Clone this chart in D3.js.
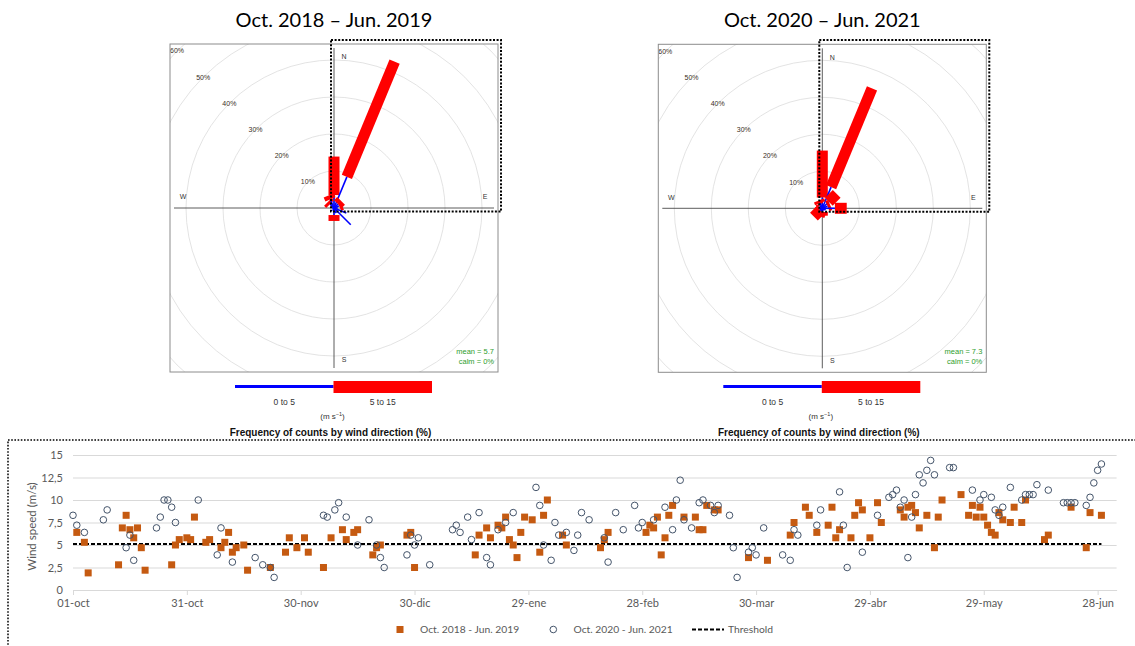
<!DOCTYPE html>
<html>
<head>
<meta charset="utf-8">
<script src="https://cdn.jsdelivr.net/npm/d3@7"></script>
<style>
body { margin: 0; background: #fff; }
.rose text { font-family: "Liberation Sans", Arial, sans-serif; }
.xl text { font-family: Lato, "Open Sans", sans-serif; fill: #595959; }
</style>
</head>
<body>
<svg id="chart" width="1135" height="646"></svg>
<script>
// wind rose data (% of counts per direction and speed bin)
var dirs = ['N','NNE','NE','ENE','E','ESE','SE','SSE','S','SSW','SW','WSW','W','WNW','NW','NNW'];
var speedBins = ['0 to 5', '5 to 15'];
var ringPct = [10, 20, 30, 40, 50, 60];
var compass = ['N', 'E', 'S', 'W'];

var low2019  = [3.5, 9.1, 1.5, 1.5, 1.0, 3.6, 6.4, 1.5, 1.9, 0.8, 0.5, 0.3, 0.3, 0.5, 1.5, 2.5];
var high2019 = [10.4, 33.7, 1.2, 0.8, 0, 0, 0, 0, 1.6, 0, 0, 0, 0, 0, 0.8, 1.2];
var low2021  = [2.9, 6.2, 2.5, 1.5, 3.4, 1.0, 0.8, 0.5, 1.0, 1.0, 0.8, 0.8, 0.5, 0.5, 1.0, 1.5];
var high2021 = [12.7, 28.9, 3.0, 0.8, 3.2, 0, 0, 0, 1.0, 1.2, 2.4, 0.5, 0, 0, 0.5, 0.8];

// daily wind speed series: [day since 01-oct, m/s]
var tickDays = [0, 30, 60, 90, 120, 150, 180, 210, 240, 270];
var tickLabels = ['01-oct','31-oct','30-nov','30-dic','29-ene','28-feb','30-mar','29-abr','29-may','28-jun'];
var yTicks = [0, 2.5, 5, 7.5, 10, 12.5, 15];
var threshold = 5.1;

var series2019 = [[1,6.4],[3,5.3],[4,1.9],[12,2.8],[13,6.9],[14,8.3],[15,6.7],[16,5.8],[17,6.9],[18,4.7],[19,2.2],
  [26,2.8],[27,5.0],[28,5.6],[30,5.8],[31,5.6],[32,8.1],[35,5.3],[36,5.6],[39,4.7],[40,5.3],[41,6.4],[42,4.2],
  [43,4.7],[45,5.0],[46,2.2],[52,2.5],[56,4.2],[57,5.8],[59,4.7],[61,5.8],[62,4.2],[66,2.5],[68,5.8],
  [71,6.7],[72,5.6],[74,6.4],[75,6.7],[79,3.9],[80,4.7],[81,5.0],[88,6.1],[89,6.4],[90,2.5],[106,3.9],[107,6.1],
  [109,6.9],[110,5.8],[112,7.2],[113,6.9],[114,8.1],[115,5.6],[116,5.0],[117,3.6],[118,6.4],[119,8.1],[121,7.8],
  [123,4.2],[124,8.3],[125,10.0],[129,6.1],[130,5.0],
  [139,4.7],[140,5.6],[141,6.4],[151,6.4],[152,7.2],[153,6.9],[154,8.1],[155,3.9],[156,5.8],[157,8.3],[158,9.4],
  [161,8.1],[164,8.1],[165,6.7],[166,6.7],[167,9.4],[169,8.9],[170,8.9],[178,3.6],[183,3.3],[189,6.1],[190,7.5],
  [193,9.2],[194,8.3],[196,6.4],[199,7.2],[200,9.2],[201,5.8],[202,6.7],[205,5.8],[206,8.3],[207,9.7],
  [208,8.9],[210,5.8],[212,9.7],[213,7.5],[218,8.9],[219,8.1],[220,9.2],[221,9.4],[222,8.6],[223,6.9],[225,8.3],
  [227,4.7],[228,8.1],[229,10.0],[234,10.6],[236,8.3],[237,9.4],[238,8.1],[239,9.2],[240,8.1],[241,7.2],[242,6.4],
  [243,6.1],[244,8.6],[245,7.8],[247,7.5],[248,9.2],[250,7.5],[251,10.0],[256,5.6],[257,6.1],[263,9.2],[267,4.7],
  [268,8.6],[271,8.3]];

var series2021 = [[0,8.3],[1,7.2],[3,6.4],[8,7.8],[9,8.9],[14,4.7],[15,6.1],[16,3.3],[22,6.9],[23,8.1],[24,10.0],
  [25,10.0],[26,9.2],[27,7.5],[33,10.0],[38,3.9],[39,6.9],[42,3.1],[48,3.6],[50,2.8],[52,2.5],[53,1.4],[66,8.3],[67,8.1],
  [69,8.9],[70,9.7],[72,8.1],[75,5.0],[78,7.8],[80,5.0],[81,3.6],[82,2.5],[88,3.9],[89,6.1],[90,5.0],[91,5.8],[94,2.8],
  [100,6.7],[101,7.2],[102,6.4],[104,8.1],[105,5.6],[107,8.6],[109,3.6],[110,2.8],[112,6.7],[114,7.5],[116,8.6],
  [122,11.4],[123,9.4],[124,5.0],[126,3.3],[127,7.5],[128,6.1],[130,6.4],[132,4.4],[133,6.1],[134,8.6],[136,7.8],
  [140,5.8],[141,3.1],[143,8.6],[145,6.7],[148,9.4],[149,6.9],[150,7.5],[153,7.8],[156,9.2],[158,6.7],[159,10.0],
  [160,12.2],[161,7.8],[163,6.9],[165,9.7],[166,10.0],[168,9.4],[169,8.6],[170,9.4],[173,8.3],[174,4.7],[175,1.4],
  [178,4.2],[179,4.7],[180,3.9],[182,6.9],[187,3.9],[189,3.3],[190,6.7],[191,6.1],[196,7.2],[197,8.9],[202,10.9],
  [203,7.2],[204,2.5],[208,4.2],
  [212,8.3],[215,10.3],[216,10.6],[217,11.1],[218,9.2],[219,10.0],[220,3.6],[221,8.1],[222,10.6],[223,12.8],[224,11.9],
  [225,13.3],[226,14.4],[227,12.8],[231,13.6],[232,13.6],[237,11.1],[239,10.0],[240,10.6],[242,10.3],[243,8.9],
  [244,8.3],[245,9.2],[247,11.4],[250,10.0],[251,10.6],[252,10.6],[253,10.6],[254,11.7],[257,11.1],[261,9.7],
  [262,9.7],[263,9.7],[264,9.7],[267,9.4],[268,10.3],[269,11.9],[270,13.3],[271,14.0]];

var svg = d3.select('#chart');

windrose(svg, {id: 'a', cx: 334, cy: 208, title: 'Oct. 2018 \u2013 Jun. 2019', low: low2019, high: high2019, mean: '5.7'});
windrose(svg, {id: 'b', cx: 822.3, cy: 208.3, title: 'Oct. 2020 \u2013 Jun. 2021', low: low2021, high: high2021, mean: '7.3'});
scatter(svg);

function windrose(svg, cfg){
    var half = 164;
    var r = d3.scaleLinear().domain([0, 10]).range([0, 37]);
    var angle = d3.scalePoint().domain(dirs).range([0, 337.5]);
    var root = svg.append('g').attr('class', 'rose');

    root.append('text')
        .attr('x', cfg.cx).attr('y', 26.5)
        .attr('text-anchor', 'middle')
        .style('font-family', 'Lato, sans-serif')
        .style('font-size', '20px')
        .text(cfg.title);

    var g = root.append('g').attr('transform', 'translate(' + cfg.cx + ',' + cfg.cy + ')');
    g.append('clipPath').attr('id', 'clip' + cfg.id)
      .append('rect').attr('x', -half).attr('y', -half).attr('width', 2 * half).attr('height', 2 * half);

    var inner = g.append('g').attr('clip-path', 'url(#clip' + cfg.id + ')');
    inner.selectAll('.ring').data(ringPct).enter().append('circle')
        .attr('class', 'ring')
        .attr('r', function(d){ return r(d); })
        .attr('fill', 'none').attr('stroke', '#dcdcdc').attr('stroke-width', 0.8);
    inner.selectAll('.pct').data(ringPct).enter().append('text')
        .attr('class', 'pct')
        .attr('x', function(d){ return -r(d) * Math.SQRT1_2; })
        .attr('y', function(d){ return -r(d) * Math.SQRT1_2; })
        .attr('text-anchor', 'middle').attr('dy', '0.35em')
        .style('font-size', '7px').style('fill', '#3b2f25')
        .text(function(d){ return d + '%'; });

    // axes through the centre
    g.append('line').attr('x1', -160).attr('x2', 160).attr('stroke', '#333').attr('stroke-width', 0.8);
    g.append('line').attr('y1', -160).attr('y2', 160).attr('stroke', '#333').attr('stroke-width', 0.8);

    var lab = {N: [10, -151], E: [151, -11], S: [10, 152], W: [-151, -11]};
    g.selectAll('.cmp').data(compass).enter().append('text')
        .attr('x', function(d){ return lab[d][0]; })
        .attr('y', function(d){ return lab[d][1]; })
        .attr('text-anchor', 'middle').attr('dy', '0.35em')
        .style('font-size', '7px').style('fill', '#333')
        .text(function(d){ return d; });

    // paddles
    var rows = dirs.map(function(d, i){ return {dir: d, low: cfg.low[i], high: cfg.high[i]}; });
    var p = g.selectAll('.paddle').data(rows).enter().append('g')
        .attr('class', 'paddle')
        .attr('transform', function(d){ return 'rotate(' + angle(d.dir) + ')'; });
    p.filter(function(d){ return d.high > 0; }).append('rect')
        .attr('x', -5.5).attr('width', 11)
        .attr('y', function(d){ return -r(d.low + d.high); })
        .attr('height', function(d){ return r(d.high); })
        .attr('fill', '#ff0000');
    p.append('line')
        .attr('y1', 0).attr('y2', function(d){ return -r(d.low); })
        .attr('stroke', '#0000ff').attr('stroke-width', 1.6);

    g.append('rect').attr('x', -half).attr('y', -half).attr('width', 2 * half).attr('height', 2 * half)
        .attr('fill', 'none').attr('stroke', '#8c8c8c').attr('stroke-width', 1);

    g.append('text').attr('x', half - 4).attr('y', 146).attr('text-anchor', 'end')
        .style('font-size', '7.5px').style('fill', '#2e9e2e').text('mean = ' + cfg.mean);
    g.append('text').attr('x', half - 4).attr('y', 156).attr('text-anchor', 'end')
        .style('font-size', '7.5px').style('fill', '#2e9e2e').text('calm = 0%');

    // NE quadrant highlight
    root.append('rect')
        .attr('x', cfg.cx - 3).attr('y', 40).attr('width', 170).attr('height', cfg.cy + 3.5 - 40)
        .attr('fill', 'none').attr('stroke', '#000').attr('stroke-width', 2).attr('stroke-dasharray', '2,1.6');

    // speed legend
    var lx = d3.scaleBand().domain(speedBins).range([cfg.cx - 99, cfg.cx + 98]);
    root.append('line')
        .attr('x1', lx(speedBins[0])).attr('x2', lx(speedBins[0]) + lx.bandwidth())
        .attr('y1', 386.5).attr('y2', 386.5)
        .attr('stroke', '#0000ff').attr('stroke-width', 3);
    root.append('rect')
        .attr('x', lx(speedBins[1])).attr('width', lx.bandwidth())
        .attr('y', 381).attr('height', 12).attr('fill', '#ff0000');
    root.selectAll('.bin').data(speedBins).enter().append('text')
        .attr('x', function(d){ return lx(d) + lx.bandwidth() / 2; })
        .attr('y', 405).attr('text-anchor', 'middle')
        .style('font-size', '8.5px').style('fill', '#333')
        .text(function(d){ return d; });
    var u = root.append('text').attr('x', cfg.cx - 1.5).attr('y', 419).attr('text-anchor', 'middle')
        .style('font-size', '8px').style('fill', '#333');
    u.append('tspan').text('(m s');
    u.append('tspan').attr('dy', -3).style('font-size', '5.5px').text('\u22121');
    u.append('tspan').attr('dy', 3).text(')');
    root.append('text').attr('x', cfg.cx - 3.5).attr('y', 435.5).attr('text-anchor', 'middle')
        .style('font-size', '10px').style('font-weight', 'bold').style('fill', '#111')
        .text('Frequency of counts by wind direction (%)');
}

function scatter(svg){
    var g = svg.append('g').attr('class', 'xl');
    var x = d3.scaleLinear().domain([0, 275]).range([73, 1116.6]);
    var y = d3.scaleLinear().domain([0, 15]).range([590, 455]);

    g.append('rect').attr('x', 8).attr('y', 440).attr('width', 1140).attr('height', 220)
        .attr('fill', 'none').attr('stroke', '#000').attr('stroke-width', 1.5).attr('stroke-dasharray', '1.6,1.6');

    var yAxis = d3.axisLeft(y).tickValues(yTicks)
        .tickSize(-(x.range()[1] - x.range()[0])).tickPadding(10)
        .tickFormat(function(d){ return String(d).replace('.', ','); });
    var yg = g.append('g').attr('transform', 'translate(' + x.range()[0] + ',0)').call(yAxis);
    yg.select('.domain').remove();
    yg.selectAll('line').attr('stroke', '#d9d9d9');
    yg.selectAll('text').style('font-size', '11px').style('fill', '#595959').style('font-family', 'Lato, sans-serif');

    var xAxis = d3.axisBottom(x).tickValues(tickDays).tickSize(5).tickSizeOuter(0).tickPadding(4)
        .tickFormat(function(d, i){ return tickLabels[i]; });
    var xg = g.append('g').attr('transform', 'translate(0,' + y(0) + ')').call(xAxis);
    xg.select('.domain').attr('stroke', '#d9d9d9');
    xg.selectAll('line').attr('stroke', '#d9d9d9');
    xg.selectAll('text').style('font-size', '11px').style('fill', '#595959').style('font-family', 'Lato, sans-serif');

    g.append('text')
        .attr('transform', 'translate(36,' + ((y(0) + y(15)) / 2 + 4) + ') rotate(-90)')
        .attr('text-anchor', 'middle')
        .style('font-size', '11.5px')
        .text('Wind speed (m/s)');

    var days = d3.extent(series2019.concat(series2021), function(d){ return d[0]; });
    g.append('line')
        .attr('x1', x(days[0])).attr('x2', x(days[1]))
        .attr('y1', y(threshold)).attr('y2', y(threshold))
        .attr('stroke', '#000').attr('stroke-width', 2).attr('stroke-dasharray', '4,2');

    var sq = 7;
    g.selectAll('.s19').data(series2019).enter().append('rect')
        .attr('class', 's19')
        .attr('x', function(d){ return x(d[0]) - sq / 2; })
        .attr('y', function(d){ return y(d[1]) - sq / 2; })
        .attr('width', sq).attr('height', sq)
        .attr('fill', '#c55a11');
    g.selectAll('.s21').data(series2021).enter().append('circle')
        .attr('class', 's21')
        .attr('cx', function(d){ return x(d[0]); })
        .attr('cy', function(d){ return y(d[1]); })
        .attr('r', 3.3)
        .attr('fill', 'none').attr('stroke', '#44546a').attr('stroke-width', 1);

    // legend
    var ly = 629.5;
    g.append('rect').attr('x', 400 - sq / 2).attr('y', ly - sq / 2).attr('width', sq).attr('height', sq).attr('fill', '#c55a11');
    g.append('text').attr('x', 420).attr('y', ly + 3.5).style('font-size', '10.3px').text('Oct. 2018 - Jun. 2019');
    g.append('circle').attr('cx', 553.3).attr('cy', ly).attr('r', 3.3)
        .attr('fill', 'none').attr('stroke', '#44546a').attr('stroke-width', 1);
    g.append('text').attr('x', 573.5).attr('y', ly + 3.5).style('font-size', '10.3px').text('Oct. 2020 - Jun. 2021');
    g.append('line').attr('x1', 692).attr('x2', 724).attr('y1', ly).attr('y2', ly)
        .attr('stroke', '#000').attr('stroke-width', 2).attr('stroke-dasharray', '4,2');
    g.append('text').attr('x', 728).attr('y', ly + 3.5).style('font-size', '10.3px').text('Threshold');
}
</script>
</body>
</html>
